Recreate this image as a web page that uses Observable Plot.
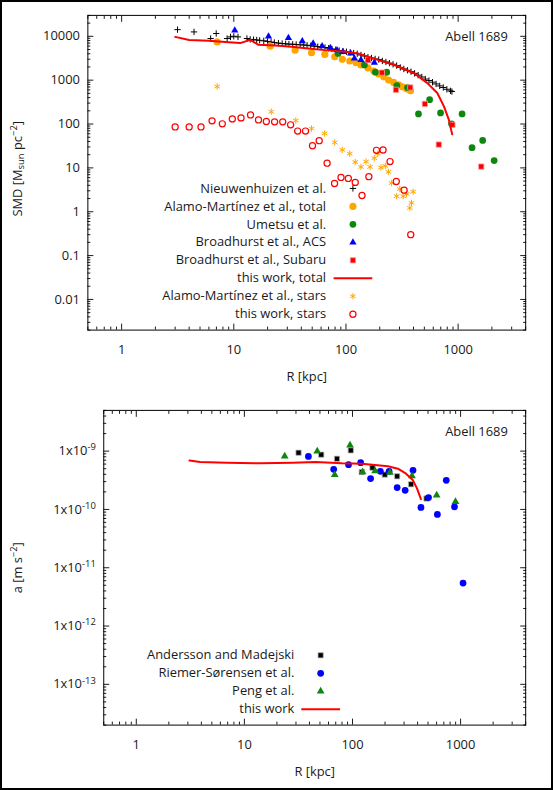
<!DOCTYPE html>
<html><head><meta charset="utf-8">
<script src="https://cdn.jsdelivr.net/npm/d3@7"></script>
<script src="https://cdn.jsdelivr.net/npm/@observablehq/plot@0.6"></script>
<style>
html,body{margin:0;padding:0;background:#fff;}
#wrap{position:relative;width:553px;height:790px;box-sizing:border-box;border:2px solid #000;overflow:hidden;font-family:"Open Sans",sans-serif;background:#fff;}
#wrap svg{position:absolute;left:-2px;}
</style></head>
<body><div id="wrap"></div>
<script>
// ---------- Top panel: surface mass density (SMD) vs R ----------
const nieuwR = [3.15, 4.42, 6.22, 6.97, 8.72, 9.34, 10.0, 10.9, 13.1, 14, 15, 16, 17, 18.5, 20, 21.5, 23, 25, 27, 29, 31, 33.5, 36, 39, 42, 45, 48.5, 52, 56, 60, 65, 70, 75, 81, 87, 94, 101, 109, 117, 126, 136, 146, 157, 169, 182, 196, 211, 227, 244, 263, 283, 305, 328, 353, 380, 409, 440, 474, 510, 549, 591, 636, 685, 737, 793, 854, 880];
const nieuwSMD = [14200, 12600, 8900, 11600, 8900, 9700, 10000, 9700, 8900, 8500, 8400, 8250, 8100, 7900, 7650, 7400, 7200, 7000, 6850, 6750, 6650, 6600, 6500, 6400, 6350, 6250, 6100, 5950, 5800, 5700, 5550, 5350, 5150, 4950, 4750, 4600, 4450, 4300, 4150, 4000, 3750, 3550, 3350, 3200, 3050, 2950, 2750, 2600, 2450, 2300, 2150, 1950, 1800, 1680, 1560, 1430, 1300, 1180, 1060, 980, 900, 820, 740, 680, 620, 570, 550];

const alamoTotR = [7.1, 21.1, 35.2, 49.3, 64.8, 79.4, 92.7, 108, 123, 136, 157, 177, 196, 217, 240, 266, 294, 319, 347, 376];
const alamoTotSMD = [7460, 5970, 4840, 4210, 3870, 3420, 2985, 2730, 2500, 2220, 1900, 1620, 1390, 1190, 1010, 890, 782, 705, 635, 573];

const umetsuR = [85, 146, 183, 231, 284, 354, 443, 557, 697, 873, 1084, 1330, 1655, 2094];
const umetsuSMD = [4080, 2220, 1517, 1517, 754, 680, 170, 358, 179, 101, 170, 28.9, 42.3, 14.7];

const acsR = [10.2, 20.4, 30.7, 40.8, 51.0, 61.3, 72.6, 83.2, 94.0, 110, 119, 136, 157, 179];
const acsSMD = [13700, 10000, 9190, 7740, 6870, 5970, 5460, 4840, 4430, 4080, 3140, 2880, 2730, 2500];

const subaruR = [157, 209, 279, 374, 505, 672, 889, 1607];
const subaruSMD = [2880, 1486, 603, 680, 288, 34, 96, 10.7];

const workTotR = [3.0, 4.0, 6.0, 8.4, 11.4, 14.0, 16.6, 23.4, 32.8, 46, 64.7, 100, 128, 192, 270, 405, 532, 652, 747, 826, 885];
const workTotSMD = [9700, 8200, 7900, 7460, 7000, 8300, 6400, 6200, 5800, 5300, 4840, 4430, 4080, 2900, 2220, 1440, 855, 508, 252, 126, 58];

const alamoStarR = [7.11, 21.6, 35.7, 49.3, 64.5, 79.4, 92.7, 108, 121, 136, 151, 164, 179, 192, 205, 224, 239, 255, 283, 302, 324, 347, 371, 384, 397];
const alamoStarSMD = [716, 191, 120, 79, 61, 38, 25.8, 21.1, 13.6, 10.5, 13.9, 10.5, 16.6, 21.1, 10.2, 11.1, 8.1, 4.5, 2.25, 3.3, 2.25, 2.54, 1.22, 1.59, 2.86];

const workStarR = [3.0, 4.0, 5.1, 6.4, 7.9, 9.7, 11.6, 14.1, 16.6, 19.5, 23.1, 27.3, 32.1, 37.1, 43.6, 50.3, 57.7, 67.9, 79.1, 90.3, 105, 121, 139, 160, 187, 214, 247, 281, 330, 378];
const workStarSMD = [86, 86, 86, 118, 101, 131, 138, 161, 124, 114, 112, 112, 96, 69, 69, 32, 41.7, 12.8, 4.4, 6.05, 5.75, 4.67, 2.35, 6.3, 25.1, 25.5, 13.9, 4.9, 3.1, 0.30];

// ---------- Bottom panel: acceleration vs R ----------
const anderR = [31.7, 51.4, 71.9, 96.4, 122, 153, 199, 259, 348, 484];
const anderA = [9.4e-10, 8.7e-10, 7.4e-10, 1.03e-9, 4.38e-10, 5.21e-10, 3.96e-10, 3.70e-10, 2.70e-10, 1.54e-10];

const riemerR = [39.1, 67, 91.9, 119, 147, 181, 218, 259, 307, 363, 430, 505, 610, 737, 878, 1054];
const riemerA = [8.12e-10, 4.87e-10, 5.86e-10, 6.34e-10, 3.38e-10, 4.5e-10, 4.5e-10, 2.37e-10, 2.13e-10, 4.69e-10, 1.08e-10, 1.6e-10, 8.22e-11, 3.16e-10, 1.11e-10, 5.46e-12];

const pengR = [23.6, 47.2, 68.5, 94.9, 124, 162, 222, 355, 601, 897];
const pengA = [8.2e-10, 1.0e-9, 3.93e-10, 1.26e-9, 4.38e-10, 4.56e-10, 4.28e-10, 3.74e-10, 1.75e-10, 1.35e-10];

const workAccR = [3.1, 3.9, 6.9, 13.9, 27.9, 45.6, 79.8, 122, 213, 263, 313, 361, 395, 430];
const workAccA = [6.9e-10, 6.5e-10, 6.3e-10, 6.2e-10, 6.3e-10, 6.5e-10, 6.2e-10, 6.1e-10, 5.5e-10, 5.0e-10, 4.1e-10, 3.2e-10, 2.3e-10, 1.5e-10];

// ---------- ticks & labels ----------
const xMajorTicks = [1, 10, 100, 1000];
const smdMajorTicks = [0.01, 0.1, 1, 10, 100, 1000, 10000];
const accMajorTicks = [1e-13, 1e-12, 1e-11, 1e-10, 1e-9];
const topLegendLabels = ["Nieuwenhuizen et al.", "Alamo-Martínez et al., total", "Umetsu et al.", "Broadhurst et al., ACS", "Broadhurst et al., Subaru", "this work, total", "Alamo-Martínez et al., stars", "this work, stars"];
const bottomLegendLabels = ["Andersson and Madejski", "Riemer-Sørensen et al.", "Peng et al.", "this work"];
const panelTitle = "Abell 1689";
const xLabel = "R [kpc]";

function zip(xs, ys) { return xs.map((R, i) => ({R, v: ys[i]})); }
function minorTicks(lo, hi, e0, e1) {
  const out = [];
  for (let e = e0; e <= e1; e++) for (let k = 2; k <= 9; k++) {
    const t = k * Math.pow(10, e);
    if (t >= lo * 0.999 && t <= hi * 1.001) out.push(t);
  }
  return out;
}

const FS = 13;
const INK = "#1a1a1a";
const lineSym = {draw(ctx) { ctx.moveTo(-19.5, 0); ctx.lineTo(19.5, 0); }};

// symbol styles
const S = {
  plus: {symbol: "plus", stroke: "black", r: 2.2, strokeWidth: 1},
  orange: {symbol: "circle", fill: "#ffa500", r: 3.6},
  green: {symbol: "circle", fill: "#0f870f", r: 3.4},
  blueTri: {symbol: "triangle", fill: "#0000ff", r: 2.7},
  redSq: {symbol: "square", fill: "#ff0000", stroke: "#ff9999", strokeWidth: 0.8, r: 3.0},
  redLine: {symbol: lineSym, stroke: "#ff0000", strokeWidth: 2},
  star: {symbol: "asterisk", stroke: "#ffa500", r: 3.0, strokeWidth: 1},
  ring: {symbol: "circle", stroke: "#ff0000", r: 3.1, strokeWidth: 1.2},
  blackSq: {symbol: "square", fill: "#000", stroke: "#bbbbbb", strokeWidth: 0.8, r: 3.0},
  blueDot: {symbol: "circle", fill: "#0000ff", r: 3.4},
  greenTri: {symbol: "triangle", fill: "#0f870f", r: 2.9}
};

function axesMarks(xMinor, yMajor, yMinor, yFmt) {
  const blank = () => "";
  return [
    Plot.axisX({anchor: "bottom", ticks: xMajorTicks, tickSize: 0, tickPadding: 15, tickFormat: d => String(d), label: null, fontSize: FS, fill: INK}),
    Plot.axisX({anchor: "bottom", ticks: xMajorTicks, tickSize: -6, tickFormat: blank, label: null}),
    Plot.axisX({anchor: "bottom", ticks: xMinor, tickSize: -3, tickFormat: blank, label: null}),
    Plot.axisX({anchor: "top", ticks: xMajorTicks, tickSize: -6, tickFormat: blank, label: null}),
    Plot.axisX({anchor: "top", ticks: xMinor, tickSize: -3, tickFormat: blank, label: null}),
    Plot.axisY({anchor: "left", ticks: yMajor, tickSize: 0, tickPadding: 8, tickFormat: yFmt, label: null, fontSize: FS, fill: INK}),
    Plot.axisY({anchor: "left", ticks: yMajor, tickSize: -6, tickFormat: blank, label: null}),
    Plot.axisY({anchor: "left", ticks: yMinor, tickSize: -3, tickFormat: blank, label: null}),
    Plot.axisY({anchor: "right", ticks: yMajor, tickSize: -6, tickFormat: blank, label: null}),
    Plot.axisY({anchor: "right", ticks: yMinor, tickSize: -3, tickFormat: blank, label: null}),
    Plot.frame({stroke: "black", strokeWidth: 1})
  ];
}

function legendMarks(labels, styles, textX, symX, y0, step, fl, ft) {
  return labels.flatMap((lab, i) => {
    const dy = y0 + i * step - ft;
    return [
      Plot.text([lab], {text: d => d, frameAnchor: "top-left", dx: textX - fl, dy, textAnchor: "end", lineAnchor: "middle", fontSize: FS, fill: INK}),
      Plot.dot([0], {frameAnchor: "top-left", dx: symX - fl, dy, ...styles[i]})
    ];
  });
}

function labelMarks(fl, yLabel, yLabelDy) {
  return [
    Plot.text([panelTitle], {text: d => d, frameAnchor: "top-right", dx: -18, dy: 22, textAnchor: "end", lineAnchor: "middle", fontSize: FS, fill: INK}),
    Plot.text([xLabel], {text: d => d, frameAnchor: "bottom", dy: 47, textAnchor: "middle", lineAnchor: "middle", fontSize: FS, fill: INK}),
    Plot.text([yLabel], {text: d => d, frameAnchor: "left", dx: 17 - fl, dy: yLabelDy, rotate: -90, textAnchor: "middle", lineAnchor: "middle", fontSize: FS, fill: INK})
  ];
}

// ---------- Top plot ----------
const TL = 88, TT = 15, TR = 24, TB = 63;
const topPlot = Plot.plot({
  width: 553, height: 395,
  marginLeft: TL, marginRight: TR, marginTop: TT, marginBottom: TB,
  style: {fontFamily: "'Open Sans', sans-serif", fontSize: FS + "px", background: "transparent", color: INK},
  x: {type: "log", domain: [0.5, 4000]},
  y: {type: "log", domain: [0.002, 30000]},
  marks: [
    ...axesMarks(minorTicks(0.5, 4000, -1, 3), smdMajorTicks, minorTicks(0.002, 30000, -3, 4), d => String(d)),
    Plot.dot(zip(nieuwR, nieuwSMD), {x: "R", y: "v", ...S.plus}),
    Plot.dot(zip(alamoTotR, alamoTotSMD), {x: "R", y: "v", ...S.orange}),
    Plot.dot(zip(umetsuR, umetsuSMD), {x: "R", y: "v", ...S.green}),
    Plot.dot(zip(acsR, acsSMD), {x: "R", y: "v", ...S.blueTri}),
    Plot.dot(zip(subaruR, subaruSMD), {x: "R", y: "v", ...S.redSq}),
    Plot.line(zip(workTotR, workTotSMD), {x: "R", y: "v", stroke: "#ff0000", strokeWidth: 2}),
    Plot.dot(zip(alamoStarR, alamoStarSMD), {x: "R", y: "v", ...S.star}),
    Plot.dot(zip(workStarR, workStarSMD), {x: "R", y: "v", ...S.ring}),
    ...legendMarks(topLegendLabels, [S.plus, S.orange, S.green, S.blueTri, S.redSq, S.redLine, S.star, S.ring], 328, 355, 189.3, 18.1, TL, TT),
    ...labelMarks(TL, "SMD [M_sun pc^-2]", -4)
  ]
});

// ---------- Bottom plot ----------
const BL = 104, BT = 15, BR = 24, BB = 63;
const botPlot = Plot.plot({
  width: 553, height: 395,
  marginLeft: BL, marginRight: BR, marginTop: BT, marginBottom: BB,
  style: {fontFamily: "'Open Sans', sans-serif", fontSize: FS + "px", background: "transparent", color: INK},
  x: {type: "log", domain: [0.5, 4000]},
  y: {type: "log", domain: [2e-14, 5e-9]},
  marks: [
    ...axesMarks(minorTicks(0.5, 4000, -1, 3), accMajorTicks, minorTicks(2e-14, 5e-9, -14, -9), d => `1x10^${Math.round(Math.log10(d))}`),
    Plot.dot(zip(anderR, anderA), {x: "R", y: "v", ...S.blackSq}),
    Plot.dot(zip(riemerR, riemerA), {x: "R", y: "v", ...S.blueDot}),
    Plot.dot(zip(pengR, pengA), {x: "R", y: "v", ...S.greenTri}),
    Plot.line(zip(workAccR, workAccA), {x: "R", y: "v", stroke: "#ff0000", strokeWidth: 2}),
    ...legendMarks(bottomLegendLabels, [S.blackSq, S.blueDot, S.greenTri, S.redLine], 296, 322.5, 656.7 - 395, 18.1, BL, BT),
    ...labelMarks(BL, "a [m s^-2]", 0)
  ]
});

// ---------- sub/superscripts ----------
function fixScripts(svg) {
  svg.querySelectorAll("text").forEach(t => {
    const s = t.textContent;
    if (s === "SMD [M_sun pc^-2]") {
      t.innerHTML = 'SMD [M<tspan dy="3" font-size="9.5">sun</tspan><tspan dy="-3"> pc</tspan><tspan dy="-5" font-size="9.5">\u22122</tspan><tspan dy="5">]</tspan>';
    } else if (s === "a [m s^-2]") {
      t.innerHTML = 'a [m s<tspan dy="-5" font-size="9.5">\u22122</tspan><tspan dy="5">]</tspan>';
    } else if (s.includes("^")) {
      const [a, b] = s.split("^");
      t.innerHTML = `${a}<tspan dy="-5" font-size="9.5">${b}</tspan>`;
    }
  });
}
fixScripts(topPlot);
fixScripts(botPlot);

const wrap = document.getElementById("wrap");
topPlot.style.top = "-2px";
botPlot.style.top = "393px";
wrap.appendChild(topPlot);
wrap.appendChild(botPlot);
</script>
</body></html>
